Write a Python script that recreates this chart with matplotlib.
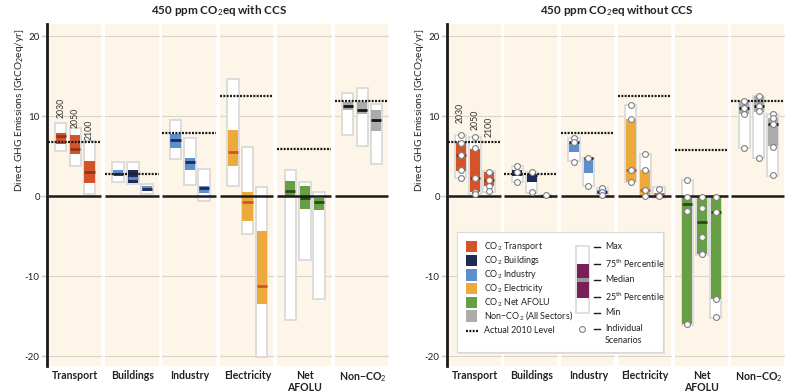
import matplotlib
matplotlib.use("Agg")
import matplotlib.pyplot as plt
from matplotlib.patches import Rectangle
from matplotlib import font_manager

names = {f.name for f in font_manager.fontManager.ttflist}
FONT = "Lato" if "Lato" in names else "DejaVu Sans"
plt.rcParams['font.family'] = [FONT, 'DejaVu Sans']
plt.rcParams['mathtext.fontset'] = 'custom'
plt.rcParams['mathtext.rm'] = FONT
plt.rcParams['mathtext.it'] = FONT + ':italic'
plt.rcParams['mathtext.bf'] = FONT + ':bold'

# ---------------- data ----------------
sectors = ["Transport", "Buildings", "Industry", "Electricity", "Net\nAFOLU", "Non\u2212CO$_2$"]
years = ["2030", "2050", "2100"]

# 450 ppm with CCS
ccs_max = [[9.1, 8.5, 6.9], [4.2, 4.3, 1.45], [9.5, 7.2, 3.4], [14.6, 6.1, 1.1], [3.3, 1.8, 0.5], [12.9, 13.5, 11.5]]
ccs_p75 = [[7.9, 7.6, 4.4], [3.25, 3.25, 1.2], [7.8, 4.7, 1.25], [8.3, 0.45, -4.4], [1.9, 1.3, -0.2], [11.7, 11.7, 10.75]]
ccs_med = [[7.5, 5.9, 3.0], [2.8, 2.2, 0.9], [7.0, 4.2, 0.95], [5.5, -0.7, -11.3], [0.65, -0.2, -0.75], [11.3, 10.7, 9.45]]
ccs_p25 = [[6.5, 5.3, 1.6], [2.6, 1.6, 0.6], [6.0, 3.3, 0.4], [3.8, -3.1, -13.5], [-0.15, -1.6, -1.8], [10.75, 10.25, 8.1]]
ccs_min = [[5.6, 3.75, 0.3], [1.8, 1.5, 0.2], [4.6, 1.4, -0.6], [1.25, -4.7, -20.1], [-15.5, -8.0, -12.9], [7.6, 6.3, 4.0]]
ccs_2010 = [6.8, 2.7, 7.9, 12.5, 5.9, 11.9]

# 450 ppm without CCS
noccs_max = [[7.6, 7.4, 3.1], [3.7, 3.0, 0.15], [7.3, 4.8, 1.0], [11.4, 5.25, 1.1], [2.0, 0.0, 0.0], [11.9, 12.5, 10.25]]
noccs_p75 = [[6.7, 5.9, 3.0], [3.3, 2.7, 0.1], [6.8, 4.8, 0.75], [9.6, 3.2, 0.4], [-0.1, 0.0, 0.0], [11.9, 12.5, 9.8]]
noccs_med = [[5.1, 2.3, 2.0], [2.8, 2.6, 0.05], [6.8, 4.75, 0.55], [3.2, 0.75, 0.25], [-1.0, -3.3, -2.0], [11.0, 11.2, 8.95]]
noccs_p25 = [[3.1, 0.5, 1.2], [2.5, 1.7, 0.0], [5.45, 2.9, 0.3], [1.8, 0.0, 0.05], [-16.0, -7.2, -12.9], [10.2, 10.5, 6.2]]
noccs_min = [[2.2, 0.25, 0.55], [1.7, 0.4, -0.1], [4.4, 1.25, -0.1], [1.8, -0.1, -0.2], [-16.1, -7.4, -15.2], [6.0, 4.7, 2.55]]
noccs_2010 = [6.8, 2.75, 7.9, 12.5, 5.8, 11.9]
noccs_scen = [
    [[7.6, 6.6, 5.1, 3.2, 2.3], [7.4, 5.95, 2.3, 0.5, 0.3], [3.0, 2.0, 1.3, 0.65]],
    [[3.7, 3.0, 1.7], [3.0, 0.45], [0.1]],
    [[7.3, 6.7, 4.3], [4.8, 1.25], [1.0, 0.55, 0.1]],
    [[11.4, 9.6, 3.2, 1.8], [5.3, 3.2, 0.75, 0.0], [0.9, 0.0]],
    [[2.0, -0.1, -1.9, -16.0], [-0.1, -1.55, -5.1, -7.1, -7.3], [-0.1, -2.0, -12.9, -15.1]],
    [[11.9, 11.0, 10.3, 6.0], [12.5, 11.2, 10.6, 4.7], [10.2, 9.7, 8.95, 6.1, 2.6]],
]

# ---------------- styles ----------------
C_TRANS = '#D4532A'
C_BUILD = '#1E2B57'
C_IND = '#5E8FCC'
C_ELEC = '#EBAA3B'
C_AFOLU = '#67A044'
C_NON = '#ABABAB'
C_PURPLE = '#7A1F57'
PANEL = '#FCF5E8'
GRID = '#D9D4CB'
EDGE = '#DADADA'
TXT = '#222222'

ccs_fill = [[C_TRANS] * 3, [C_IND, C_BUILD, C_IND], [C_IND] * 3, [C_ELEC] * 3, [C_AFOLU] * 3, [C_NON] * 3]
ccs_medc = [['#8E361C'] * 3, [C_BUILD, C_IND, C_BUILD], [C_BUILD] * 3, ['#D4532A'] * 3, ['#2B4A1C'] * 3, ['#151515'] * 3]
noccs_fill = [[C_TRANS] * 3, [C_BUILD, C_BUILD, C_IND], [C_IND] * 3, [C_ELEC] * 3, [C_AFOLU] * 3, [C_NON] * 3]
noccs_medc = [['#8E361C'] * 3, [C_BUILD] * 3, [C_BUILD] * 3, ['#D4532A'] * 3, ['#2B4A1C'] * 3, ['#151515'] * 3]

centers = [0.245, 0.5, 0.745]
BW = 0.2
YLIM = (-21.25, 21.5)

W, H = 800, 392
fig = plt.figure(figsize=(W / 100, H / 100), dpi=100)


def px_axes(x0, y0, x1, y1):
    return fig.add_axes([x0 / W, 1 - y1 / H, (x1 - x0) / W, (y1 - y0) / H])


def draw_panel(ax, mx, p75, med, p25, mn, lvl, fills, medc, scen, title, yearpos):
    ax.set_facecolor('white')
    ax.set_xlim(0, 6)
    ax.set_ylim(*YLIM)
    for s in ['top', 'right', 'bottom']:
        ax.spines[s].set_visible(False)
    ax.spines['left'].set_linewidth(2.0)
    ax.spines['left'].set_color('#1a1a1a')
    ax.set_xticks([])
    ax.set_yticks([-20, -10, 0, 10, 20])
    ax.set_yticklabels(['-20', '-10', '0', '10', '20'])
    ax.tick_params(axis='y', length=4, width=1, color='#c8c8c8', pad=1.0, labelsize=7, labelcolor=TXT)
    for i in range(6):
        a, b = i + 0.018, i + 0.952
        ax.add_patch(Rectangle((a, YLIM[0]), b - a, YLIM[1] - YLIM[0], facecolor=PANEL, edgecolor='none', zorder=0))
        for g in [-20, -10, 10, 20]:
            ax.plot([a, b], [g, g], color=GRID, lw=0.8, zorder=1)
        ax.plot([a, b], [0, 0], color='#1a1a1a', lw=1.8, zorder=6, solid_capstyle='butt')
        for j in range(3):
            c = i + centers[j]
            ax.add_patch(Rectangle((c - BW / 2, mn[i][j]), BW, mx[i][j] - mn[i][j], facecolor='white',
                                   edgecolor=EDGE, lw=1.3, zorder=3))
            ax.add_patch(Rectangle((c - BW / 2 + 0.012, p25[i][j]), BW - 0.024, p75[i][j] - p25[i][j],
                                   facecolor=fills[i][j], edgecolor='none', zorder=4))
            ax.plot([c - BW / 2 + 0.012, c + BW / 2 - 0.012], [med[i][j], med[i][j]], color=medc[i][j],
                    lw=2.0, zorder=5, solid_capstyle='butt')
            if scen is not None:
                ax.plot([c] * len(scen[i][j]), scen[i][j], 'o', ms=4.2, mfc='white', mec='#808080',
                        mew=0.8, zorder=8, clip_on=False)
        ax.plot([a, b], [lvl[i], lvl[i]], color='#1a1a1a', lw=1.6, ls=(0, (0.9, 0.6)), zorder=7)
        ax.text(i + 0.5, -0.012, sectors[i], transform=ax.get_xaxis_transform(), ha='center', va='top',
                fontsize=7.6, fontweight='bold', color=TXT, linespacing=1.15)
    for j in range(3):
        ax.text(centers[j], yearpos[j], years[j], rotation=90, ha='center', va='bottom', fontsize=6.3,
                color='#333333', zorder=9)
    ax.set_title(title, fontsize=8.4, fontweight='bold', color=TXT, pad=7)


axL = px_axes(46.7, 24, 391, 366)
draw_panel(axL, ccs_max, ccs_p75, ccs_med, ccs_p25, ccs_min, ccs_2010, ccs_fill, ccs_medc, None,
           "450 ppm CO$_2$eq with CCS", [9.75, 8.5, 7.0])
axR = px_axes(446.7, 24, 787, 366)
draw_panel(axR, noccs_max, noccs_p75, noccs_med, noccs_p25, noccs_min, noccs_2010, noccs_fill, noccs_medc,
           noccs_scen, "450 ppm CO$_2$eq without CCS", [9.1, 8.25, 7.4])

for xp in [20, 420]:
    fig.text(xp / W, 1 - 110 / H, "Direct GHG Emissions [GtCO$_2$eq/yr]", rotation=90, ha='center',
             va='center', fontsize=7.3, color=TXT)

# ---------------- legend ----------------
lx0, ly0, lx1, ly1 = 456.7, 231.7, 663.3, 352.3
shadow = px_axes(lx0 + 1.5, ly0 + 1.5, lx1 + 1.5, ly1 + 1.5)
shadow.set_facecolor('#e2e2e2')
shadow.set_xticks([]); shadow.set_yticks([])
for s in shadow.spines.values():
    s.set_visible(False)
shadow.set_zorder(20)
lg = px_axes(lx0, ly0, lx1, ly1)
lg.set_zorder(21)
lg.set_xlim(0, lx1 - lx0)
lg.set_ylim(ly1 - ly0, 0)
lg.set_xticks([]); lg.set_yticks([])
for s in lg.spines.values():
    s.set_color('#d8d8d8'); s.set_linewidth(0.8)

leg_labels = ["CO$_2$ Transport", "CO$_2$ Buildings", "CO$_2$ Industry", "CO$_2$ Electricity",
              "CO$_2$ Net AFOLU", "Non\u2212CO$_2$ (All Sectors)"]
leg_colors = [C_TRANS, C_BUILD, C_IND, C_ELEC, C_AFOLU, C_NON]
rows = [15, 29, 43.3, 56.9, 70.6, 84.3]
for lab, col, ry in zip(leg_labels, leg_colors, rows):
    lg.add_patch(Rectangle((9.3, ry - 5.6), 11.3, 11.2, facecolor=col, edgecolor='none'))
    lg.text(27.3, ry, lab, va='center', ha='left', fontsize=6.4, color=TXT)
lg.plot([9.3, 21], [99.3, 99.3], color='#1a1a1a', lw=1.6, ls=(0, (0.9, 0.6)))
lg.text(27.3, 99.3, "Actual 2010 Level", va='center', ha='left', fontsize=6.4, color=TXT)

lg.add_patch(Rectangle((119.3, 14.3), 13.3, 67.3, facecolor='white', edgecolor=EDGE, lw=1.2))
lg.add_patch(Rectangle((119.8, 32.3), 12.3, 34.3, facecolor=C_PURPLE, edgecolor='none'))
lg.add_patch(Rectangle((119.8, 46.6), 12.3, 4.0, facecolor='#9a9a9a', edgecolor='none'))
right_rows = [(15, "Max"), (32.3, "75$^{\\mathrm{th}}$ Percentile"), (48.3, "Median"),
              (65.3, "25$^{\\mathrm{th}}$ Percentile"), (81.3, "Min"), (97.3, "Individual")]
for ry, lab in right_rows:
    lg.plot([137.3, 143.3], [ry, ry], color='#1a1a1a', lw=1.0)
    lg.text(148.3, ry, lab, va='center', ha='left', fontsize=6.4, color=TXT)
lg.text(148.3, 109.3, "Scenarios", va='center', ha='left', fontsize=6.4, color=TXT)
lg.plot([125], [97.3], 'o', ms=4.2, mfc='white', mec='#808080', mew=0.8)

fig.savefig("out.png", dpi=100)
